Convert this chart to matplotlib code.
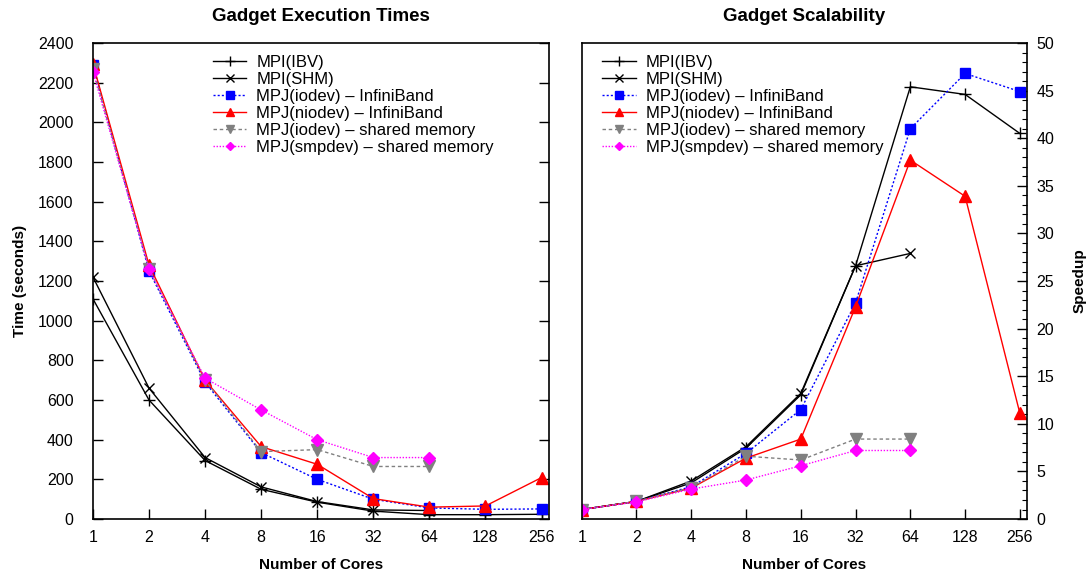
import numpy as np
import matplotlib
matplotlib.use('Agg')
import matplotlib.pyplot as plt
from matplotlib.ticker import FixedLocator, FixedFormatter, MultipleLocator, NullLocator

# ── Data ─────────────────────────────────────────────────────
cores = [1, 2, 4, 8, 16, 32, 64, 128, 256]

# execution time (seconds)
t_mpi_ibv = [1110, 600, 295, 150, 85, 40, 22, 22, 24]
t_mpi_shm = [1220, 660, 310, 162, 88, 46, 43]
t_iodev_ib = [2290, 1250, 690, 335, 200, 100, 56, 49, 51]
t_niodev_ib = [2295, 1280, 700, 365, 276, 103, 60, 66, 209]
t_iodev_shm = [2270, 1260, 700, 340, 350, 265, 265]
t_smpdev_shm = [2255, 1260, 710, 550, 400, 310, 310]

# speedup
s_mpi_ibv = [1, 1.85, 3.8, 7.45, 13.05, 26.6, 45.4, 44.6, 40.5]
s_mpi_shm = [1, 1.85, 4.0, 7.6, 13.2, 26.6, 27.9]
s_iodev_ib = [1, 1.85, 3.4, 6.9, 11.5, 22.7, 41.0, 46.8, 44.9]
s_niodev_ib = [1, 1.85, 3.25, 6.4, 8.4, 22.3, 37.7, 33.9, 11.1]
s_iodev_shm = [1, 1.85, 3.3, 6.6, 6.2, 8.4, 8.4]
s_smpdev_shm = [1, 1.8, 3.15, 4.1, 5.6, 7.2, 7.2]

labels = ['MPI(IBV)', 'MPI(SHM)', 'MPJ(iodev) \u2013 InfiniBand',
          'MPJ(niodev) \u2013 InfiniBand', 'MPJ(iodev) \u2013 shared memory',
          'MPJ(smpdev) \u2013 shared memory']

# ── Style ────────────────────────────────────────────────────
plt.rcParams['font.family'] = ['Liberation Sans', 'DejaVu Sans']
plt.rcParams['font.size'] = 11.5

styles = [
    dict(color='black', ls='-', lw=1.0, marker='+', ms=9, mew=1.0),
    dict(color='black', ls='-', lw=1.0, marker='x', ms=7.5, mew=1.0),
    dict(color='blue', ls=(0, (1.5, 1.5)), lw=1.0, marker='s', ms=7.5),
    dict(color='red', ls='-', lw=1.0, marker='^', ms=8),
    dict(color='gray', ls=(0, (2.5, 2)), lw=1.0, marker='v', ms=8),
    dict(color='magenta', ls=(0, (1, 1.2)), lw=1.0, marker='D', ms=6),
]

fig = plt.figure(figsize=(10.91, 5.78), dpi=100)
ax1 = fig.add_axes([0.0852, 0.102, 0.4178, 0.8236])
ax2 = fig.add_axes([0.5332, 0.102, 0.4081, 0.8236])

leg_kw = dict(loc='upper left', frameon=False, fontsize=12, handlelength=2.0,
              labelspacing=0.12, handletextpad=0.6, borderaxespad=0.3,
              markerscale=0.75)


def setup_x(ax):
    ax.set_xscale('log', base=2)
    ax.set_xlim(1, 280)
    ax.xaxis.set_major_locator(FixedLocator(cores))
    ax.xaxis.set_major_formatter(FixedFormatter([str(c) for c in cores]))
    ax.xaxis.set_minor_locator(NullLocator())
    ax.set_xlabel('Number of Cores', fontweight='bold', fontsize=11, labelpad=9)


# ── Left: execution times ────────────────────────────────────
times = [t_mpi_ibv, t_mpi_shm, t_iodev_ib, t_niodev_ib, t_iodev_shm, t_smpdev_shm]
for y, st, lab in zip(times, styles, labels):
    ax1.plot(cores[:len(y)], y, label=lab, **st)
setup_x(ax1)
ax1.set_ylim(0, 2400)
ax1.yaxis.set_major_locator(MultipleLocator(200))
ax1.tick_params(axis='both', direction='in', length=7, width=1.0)
ax1.tick_params(axis='y', right=True, pad=14)
ax1.tick_params(axis='x', pad=8)
ax1.set_ylabel('Time (seconds)', fontweight='bold', fontsize=11, labelpad=8)
ax1.set_title('Gadget Execution Times', fontweight='bold', fontsize=13.5, pad=16)
ax1.legend(bbox_to_anchor=(0.238, 1.0), **leg_kw)

# ── Right: speedup ───────────────────────────────────────────
speedups = [s_mpi_ibv, s_mpi_shm, s_iodev_ib, s_niodev_ib, s_iodev_shm, s_smpdev_shm]
for y, st, lab in zip(speedups, styles, labels):
    ax2.plot(cores[:len(y)], y, label=lab, **st)
setup_x(ax2)
ax2.set_ylim(0, 50)
ax2.yaxis.tick_right()
ax2.yaxis.set_label_position('right')
ax2.yaxis.set_major_locator(MultipleLocator(5))
ax2.yaxis.set_minor_locator(MultipleLocator(1))
ax2.tick_params(axis='both', which='major', direction='in', length=7, width=1.0)
ax2.tick_params(axis='y', which='major', pad=7)
ax2.tick_params(axis='y', which='minor', direction='in', length=3.5, width=0.8)
ax2.tick_params(axis='x', pad=8)
ax2.set_ylabel('Speedup', fontweight='bold', fontsize=11, labelpad=13)
ax2.set_title('Gadget Scalability', fontweight='bold', fontsize=13.5, pad=16)
ax2.legend(bbox_to_anchor=(0.02, 1.0), **leg_kw)

for ax in (ax1, ax2):
    for s in ax.spines.values():
        s.set_linewidth(1.2)

fig.savefig('out.png', dpi=100, facecolor='white')
